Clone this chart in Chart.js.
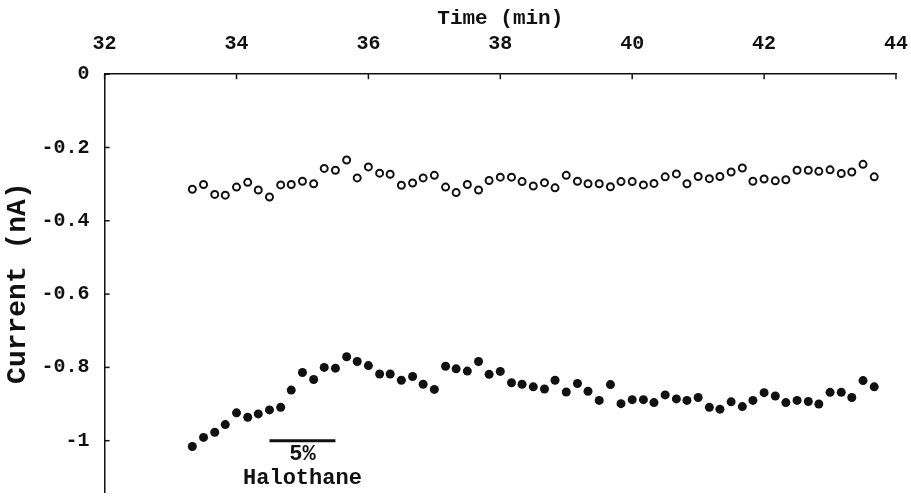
<!DOCTYPE html>
<html>
<head>
<meta charset="utf-8">
<script src="https://cdn.jsdelivr.net/npm/chart.js@4.4.1/dist/chart.umd.min.js"></script>
<style>
  html, body { margin: 0; padding: 0; background: #fff; overflow: hidden; }
  #wrap { width: 911px; height: 498px; }
</style>
</head>
<body>
<div id="wrap"><canvas id="chart"></canvas></div>
<script>
// time of each sample (min), one every 10 s
const timeMin = [
  33.33, 33.5, 33.67, 33.83, 34, 34.17, 34.33, 34.5, 34.67, 34.83,
  35, 35.17, 35.33, 35.5, 35.67, 35.83, 36, 36.17, 36.33, 36.5,
  36.67, 36.83, 37, 37.17, 37.33, 37.5, 37.67, 37.83, 38, 38.17,
  38.33, 38.5, 38.67, 38.83, 39, 39.17, 39.33, 39.5, 39.67, 39.83,
  40, 40.17, 40.33, 40.5, 40.67, 40.83, 41, 41.17, 41.33, 41.5,
  41.67, 41.83, 42, 42.17, 42.33, 42.5, 42.67, 42.83, 43, 43.17,
  43.33, 43.5, 43.67
];

// open circles (nA)
const openCurrent = [
  -0.314, -0.301, -0.328, -0.330, -0.308, -0.295, -0.316, -0.335, -0.302, -0.301,
  -0.292, -0.299, -0.257, -0.262, -0.234, -0.283, -0.253, -0.270, -0.273, -0.303,
  -0.297, -0.283, -0.276, -0.308, -0.323, -0.301, -0.316, -0.290, -0.281, -0.281,
  -0.293, -0.305, -0.296, -0.310, -0.276, -0.292, -0.299, -0.299, -0.307, -0.293,
  -0.293, -0.302, -0.298, -0.280, -0.272, -0.299, -0.279, -0.285, -0.279, -0.267,
  -0.256, -0.292, -0.286, -0.291, -0.288, -0.262, -0.262, -0.265, -0.261, -0.271,
  -0.267, -0.246, -0.280
];

// filled circles (nA)
const filledCurrent = [
  -1.016, -0.991, -0.977, -0.956, -0.924, -0.936, -0.927, -0.916, -0.909, -0.862,
  -0.814, -0.833, -0.800, -0.802, -0.771, -0.784, -0.795, -0.818, -0.818, -0.835,
  -0.825, -0.846, -0.860, -0.797, -0.804, -0.810, -0.784, -0.819, -0.811, -0.842,
  -0.846, -0.853, -0.859, -0.835, -0.867, -0.844, -0.865, -0.890, -0.847, -0.899,
  -0.888, -0.888, -0.896, -0.875, -0.886, -0.890, -0.882, -0.909, -0.914, -0.894,
  -0.907, -0.890, -0.869, -0.878, -0.896, -0.890, -0.893, -0.900, -0.868, -0.868,
  -0.882, -0.836, -0.853
];

const xTicks = [32, 34, 36, 38, 40, 42, 44];
const yTicks = [0, -0.2, -0.4, -0.6, -0.8, -1];

// halothane application bar: start, end (min) and level (nA)
const halothaneBar = [34.5, 35.5];
const halothaneLevel = -1.0;

const FONT = '"Liberation Mono", "DejaVu Sans Mono", monospace';
const INK = '#111';

const toPoints = vals => vals.map((v, i) => ({ x: timeMin[i], y: v }));

const extras = {
  id: 'extras',
  afterDraw(chart) {
    const { ctx, scales: { x, y } } = chart;
    ctx.save();
    ctx.strokeStyle = INK;
    ctx.lineWidth = 1.5;
    // tick marks pointing into the plot
    x.ticks.forEach(t => {
      const px = x.getPixelForValue(t.value);
      ctx.beginPath(); ctx.moveTo(px, y.top); ctx.lineTo(px, y.top + 5); ctx.stroke();
    });
    y.ticks.forEach(t => {
      const py = y.getPixelForValue(t.value);
      ctx.beginPath(); ctx.moveTo(x.left, py); ctx.lineTo(x.left + 5, py); ctx.stroke();
    });
    // 5% halothane bar + labels
    const x0 = x.getPixelForValue(halothaneBar[0]);
    const x1 = x.getPixelForValue(halothaneBar[1]);
    const yb = y.getPixelForValue(halothaneLevel);
    ctx.lineWidth = 3;
    ctx.beginPath(); ctx.moveTo(x0, yb); ctx.lineTo(x1, yb); ctx.stroke();
    ctx.fillStyle = INK;
    ctx.font = 'bold 22px ' + FONT;
    ctx.textAlign = 'center';
    ctx.textBaseline = 'middle';
    const cx = (x0 + x1) / 2;
    ctx.fillText('5%', cx, yb + 14);
    ctx.fillText('Halothane', cx, yb + 38);
    ctx.restore();
  }
};

new Chart(document.getElementById('chart'), {
  type: 'scatter',
  data: {
    datasets: [
      {
        label: 'open',
        data: toPoints(openCurrent),
        pointStyle: 'circle',
        pointRadius: 3.5,
        borderWidth: 2,
        borderColor: INK,
        backgroundColor: '#fff'
      },
      {
        label: 'filled',
        data: toPoints(filledCurrent),
        pointStyle: 'circle',
        pointRadius: 4.5,
        borderWidth: 0,
        borderColor: INK,
        backgroundColor: INK
      }
    ]
  },
  options: {
    responsive: true,
    maintainAspectRatio: false,
    animation: false,
    layout: { padding: { left: 0, right: 15, top: 1, bottom: 0 } },
    plugins: { legend: { display: false }, tooltip: { enabled: false } },
    scales: {
      x: {
        type: 'linear',
        position: 'top',
        min: 32,
        max: 44,
        afterBuildTicks: s => { s.ticks = xTicks.map(v => ({ value: v })); },
        afterFit: s => { s.paddingLeft = 0; s.paddingRight = 0; },
        grid: { display: false, drawTicks: false },
        border: { display: true, color: INK, width: 1.5 },
        ticks: {
          padding: 18,
          color: INK,
          font: { family: FONT, size: 20, weight: 'bold' },
          callback: v => String(v)
        },
        title: {
          display: true,
          text: 'Time (min)',
          color: INK,
          padding: { top: 5, bottom: -17 },
          font: { family: FONT, size: 21, weight: 'bold' }
        }
      },
      y: {
        type: 'linear',
        min: -1.14,
        max: 0,
        afterBuildTicks: s => { s.ticks = yTicks.map(v => ({ value: v })); },
        afterFit: s => { s.paddingTop = 0; s.paddingBottom = 0; },
        grid: { display: false, drawTicks: false },
        border: { display: true, color: INK, width: 1.5 },
        ticks: {
          padding: 15,
          color: INK,
          font: { family: FONT, size: 20, weight: 'bold' },
          callback: v => String(v)
        },
        title: {
          display: true,
          text: 'Current (nA)',
          color: INK,
          padding: { top: 1, bottom: -8 },
          font: { family: FONT, size: 28, weight: 'bold' }
        }
      }
    }
  },
  plugins: [extras]
});
</script>
</body>
</html>
